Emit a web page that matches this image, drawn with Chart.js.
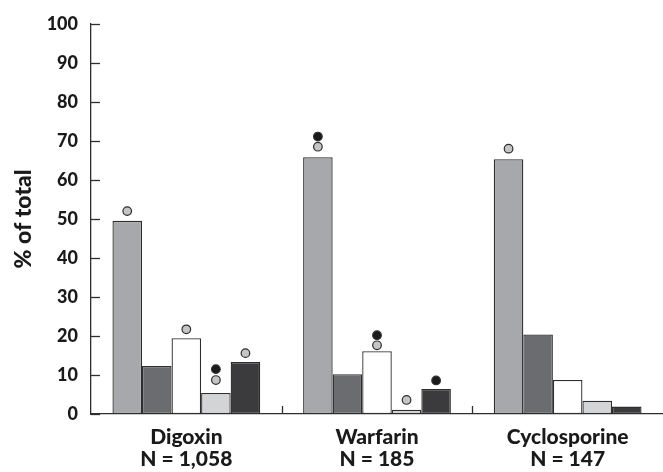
<!DOCTYPE html>
<html>
<head>
<meta charset="utf-8">
<script src="https://cdn.jsdelivr.net/npm/chart.js@4"></script>
<style>
  html, body { margin: 0; padding: 0; background: #fff; }
  #wrap { width: 663px; height: 472px; }
</style>
</head>
<body>
<div id="wrap"><canvas id="grafico" width="663" height="472"></canvas></div>
<script>
// Categorias (dos lineas por etiqueta)
const farmacos = [['Digoxin', 'N = 1,058'], ['Warfarin', 'N = 185'], ['Cyclosporine', 'N = 147']];

// Valores de las cinco barras por farmaco (% of total)
const serie1 = [49.5, 65.8, 65.3];
const serie2 = [12.3, 10.2, 20.4];
const serie3 = [19.4, 16.1, 8.7];
const serie4 = [5.4, 1.1, 3.4];
const serie5 = [13.3, 6.4, 1.9];

// Marcadores sobre las barras (null = sin marcador)
const marcasGris = [
    [52.0, 68.5, 68.0],
    [null, null, null],
    [21.7, 17.6, null],
    [8.7, 3.6, null],
    [15.6, null, null]
];
const marcasNegras = [
    [null, 71.1, null],
    [null, null, null],
    [null, 20.2, null],
    [11.5, null, null],
    [null, 8.6, null]
];

const ticksY = [0, 10, 20, 30, 40, 50, 60, 70, 80, 90, 100];

const colores = ['#a7a8ab', '#6b6c70', '#ffffff', '#d3d4d6', '#3b3b3d'];
const borde = '#2e2e2e';
const fuente = 'Lato, "DejaVu Sans", sans-serif';

const series = [serie1, serie2, serie3, serie4, serie5];

// Plugin: ticks hacia dentro, separadores y marcadores circulares
const extras = {
    id: 'extras',
    afterDatasetsDraw(chart) {
        const ctx = chart.ctx;
        const area = chart.chartArea;
        const y = chart.scales.y;
        const x = chart.scales.x;
        ctx.save();
        ctx.strokeStyle = borde;
        ctx.lineWidth = 1.3;
        // ticks del eje Y
        ticksY.forEach(v => {
            const py = Math.round(y.getPixelForValue(v)) + 0.5;
            ctx.beginPath();
            ctx.moveTo(area.left, py);
            ctx.lineTo(area.left + 9, py);
            ctx.stroke();
        });
        // separadores entre categorias
        for (let i = 1; i < farmacos.length; i++) {
            const px = Math.round((x.getPixelForValue(i - 1) + x.getPixelForValue(i)) / 2) + 0.5;
            ctx.beginPath();
            ctx.moveTo(px, area.bottom);
            ctx.lineTo(px, area.bottom - 8);
            ctx.stroke();
        }
        // marcadores
        const dibujarMarca = (xp, valor, relleno) => {
            ctx.beginPath();
            ctx.arc(xp, y.getPixelForValue(valor), 4.3, 0, Math.PI * 2);
            ctx.fillStyle = relleno;
            ctx.fill();
            ctx.lineWidth = 1.2;
            ctx.strokeStyle = borde;
            ctx.stroke();
        };
        series.forEach((s, k) => {
            const meta = chart.getDatasetMeta(k);
            meta.data.forEach((barra, i) => {
                if (marcasGris[k][i] !== null) dibujarMarca(barra.x, marcasGris[k][i], '#c4c5c7');
                if (marcasNegras[k][i] !== null) dibujarMarca(barra.x, marcasNegras[k][i], '#1b1b1b');
            });
        });
        ctx.restore();
    }
};

const ctxGrafico = document.getElementById('grafico').getContext('2d');
new Chart(ctxGrafico, {
    type: 'bar',
    data: {
        labels: farmacos,
        datasets: series.map((s, k) => ({
            data: s,
            backgroundColor: colores[k],
            borderColor: borde,
            borderWidth: 1.3,
            borderSkipped: false,
            categoryPercentage: 0.775,
            barPercentage: 1.0
        }))
    },
    options: {
        responsive: false,
        animation: false,
        layout: { padding: { top: 16, right: 0, left: 0, bottom: 0 } },
        plugins: {
            legend: { display: false },
            tooltip: { enabled: false }
        },
        scales: {
            x: {
                afterFit(scale) { scale.height = 58; },
                grid: { display: false, drawTicks: false },
                border: { display: true, color: borde, width: 1.3 },
                ticks: {
                    color: '#1a1a1a',
                    font: { family: fuente, size: 21, weight: '900', lineHeight: 1.05 },
                    padding: 12
                }
            },
            y: {
                min: 0,
                max: 100,
                afterFit(scale) { scale.width = 91; },
                afterBuildTicks(scale) { scale.ticks = ticksY.map(v => ({ value: v })); },
                grid: { display: false, drawTicks: false },
                border: { display: true, color: borde, width: 1.3 },
                ticks: {
                    color: '#1a1a1a',
                    font: { family: fuente, size: 18, weight: '900' },
                    padding: 13
                },
                title: {
                    display: true,
                    text: '% of total',
                    color: '#1a1a1a',
                    font: { family: fuente, size: 23, weight: '900' },
                    padding: { top: 10, bottom: 0 }
                }
            }
        }
    },
    plugins: [extras]
});
</script>
</body>
</html>
